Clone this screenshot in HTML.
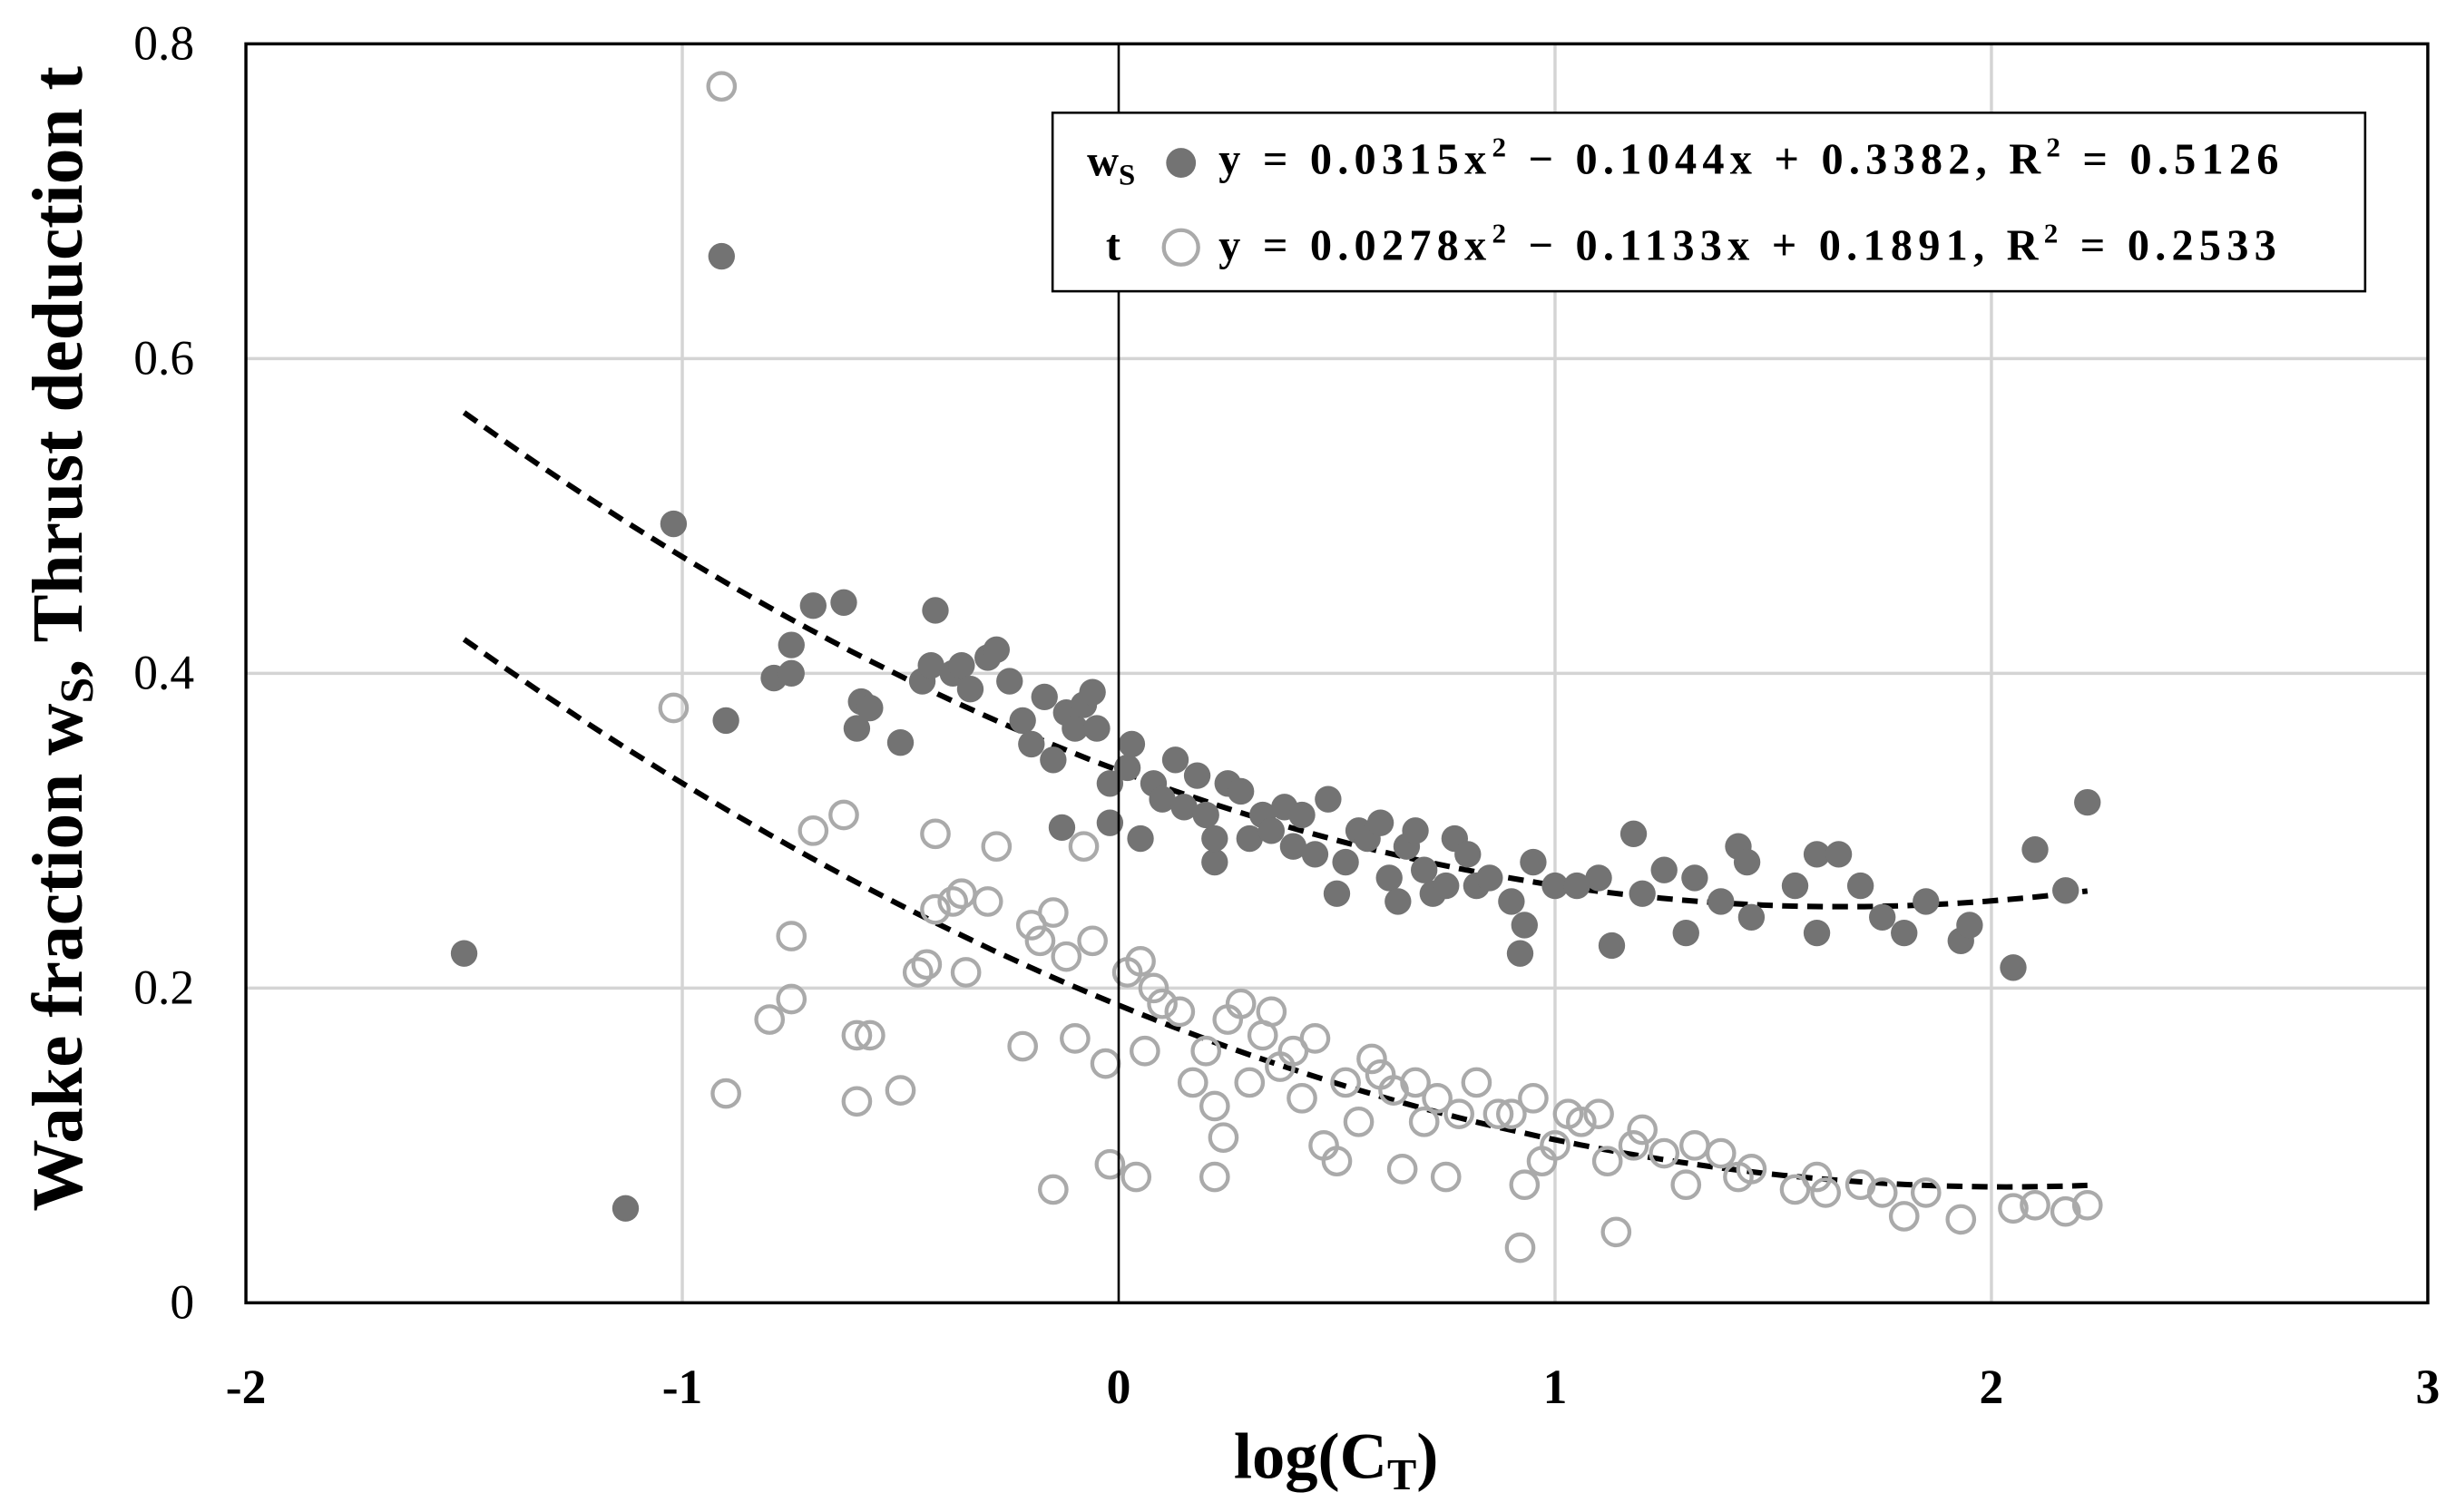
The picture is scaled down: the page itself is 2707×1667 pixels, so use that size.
<!DOCTYPE html>
<html><head><meta charset="utf-8"><style>
html,body{margin:0;padding:0;background:#fff}
svg{display:block}
text{font-family:"Liberation Serif",serif}
</style></head><body>
<svg width="2707" height="1667" viewBox="0 0 1568 965.6" xmlns="http://www.w3.org/2000/svg">
<g id="grid"></g>
<g id="trend"></g>
<g id="pts"></g>
<g id="axes"></g>
<g>
<rect x="672" y="72" width="838" height="114" fill="#fff" stroke="#000" stroke-width="1.5"/>
<text x="694" y="112" font-size="28" font-weight="bold">w<tspan font-size="19" dy="6">S</tspan></text>
<circle cx="754" cy="104" r="9.5" fill="#737373"/>
<text x="778" y="111" font-size="28" font-weight="bold" letter-spacing="3.6">y = 0.0315x<tspan font-size="18" dy="-11">2</tspan><tspan dy="11"> − 0.1044x + 0.3382, R</tspan><tspan font-size="18" dy="-11">2</tspan><tspan dy="11"> = 0.5126</tspan></text>
<text x="706" y="166" font-size="28" font-weight="bold">t</text>
<circle cx="754" cy="158" r="11" fill="none" stroke="#aaa" stroke-width="2.5"/>
<text x="778" y="166" font-size="28" font-weight="bold" letter-spacing="3.6">y = 0.0278x<tspan font-size="18" dy="-11">2</tspan><tspan dy="11"> − 0.1133x + 0.1891, R</tspan><tspan font-size="18" dy="-11">2</tspan><tspan dy="11"> = 0.2533</tspan></text>
</g>
<text x="853" y="944" text-anchor="middle" font-size="42" font-weight="bold">log(C<tspan font-size="28" dy="7">T</tspan><tspan dy="-7">)</tspan></text>
<text transform="translate(52,408) rotate(-90)" text-anchor="middle" font-size="46" font-weight="bold">Wake fraction w<tspan font-size="30" dy="7">S</tspan><tspan dy="-7">, Thrust deduction t</tspan></text>
</svg>
<script>
const xTicks=[-2,-1,0,1,2,3];
const yTicks=[0,0.2,0.4,0.6,0.8];
const yTickLabels=["0","0.2","0.4","0.6","0.8"];
const wsX=[-1.5,-1.13,-1.02,-0.91,-0.9,-0.79,-0.75,-0.75,-0.7,-0.63,-0.6,-0.59,-0.57,-0.5,-0.45,-0.43,-0.42,-0.38,-0.36,-0.34,-0.3,-0.28,-0.25,-0.22,-0.2,-0.17,-0.15,-0.13,-0.12,-0.1,-0.08,-0.06,-0.05,-0.02,-0.02,0.02,0.03,0.05,0.08,0.1,0.13,0.15,0.18,0.2,0.22,0.22,0.25,0.28,0.3,0.33,0.35,0.38,0.4,0.42,0.45,0.48,0.5,0.52,0.55,0.57,0.6,0.62,0.64,0.66,0.68,0.7,0.72,0.75,0.77,0.8,0.82,0.85,0.9,0.92,0.93,0.95,1.0,1.05,1.1,1.13,1.18,1.2,1.25,1.3,1.32,1.38,1.42,1.44,1.45,1.55,1.6,1.6,1.65,1.7,1.75,1.8,1.85,1.93,1.95,2.05,2.1,2.17,2.22];
const wsY=[0.222,0.06,0.495,0.665,0.37,0.397,0.4,0.418,0.443,0.445,0.365,0.382,0.378,0.356,0.395,0.405,0.44,0.4,0.405,0.39,0.41,0.415,0.395,0.37,0.355,0.385,0.345,0.302,0.375,0.365,0.38,0.388,0.365,0.33,0.305,0.34,0.355,0.295,0.33,0.32,0.345,0.315,0.335,0.31,0.28,0.295,0.33,0.325,0.295,0.31,0.3,0.315,0.29,0.31,0.285,0.32,0.26,0.28,0.3,0.295,0.305,0.27,0.255,0.29,0.3,0.275,0.26,0.265,0.295,0.285,0.265,0.27,0.255,0.222,0.24,0.28,0.265,0.265,0.27,0.227,0.298,0.26,0.275,0.235,0.27,0.255,0.29,0.28,0.245,0.265,0.285,0.235,0.285,0.265,0.245,0.235,0.255,0.23,0.24,0.213,0.288,0.262,0.318];
const tX=[-1.02,-0.91,-0.9,-0.8,-0.75,-0.75,-0.7,-0.63,-0.6,-0.6,-0.57,-0.5,-0.46,-0.44,-0.42,-0.42,-0.38,-0.36,-0.35,-0.3,-0.28,-0.22,-0.2,-0.18,-0.15,-0.15,-0.12,-0.1,-0.08,-0.06,-0.03,-0.02,0.02,0.04,0.05,0.06,0.08,0.1,0.14,0.17,0.2,0.22,0.22,0.24,0.25,0.28,0.3,0.33,0.35,0.37,0.4,0.42,0.45,0.47,0.5,0.52,0.55,0.58,0.6,0.63,0.65,0.68,0.7,0.73,0.75,0.78,0.82,0.87,0.9,0.92,0.93,0.95,0.97,1.0,1.03,1.06,1.1,1.12,1.14,1.18,1.2,1.25,1.3,1.32,1.38,1.42,1.45,1.55,1.6,1.62,1.7,1.75,1.8,1.85,1.93,2.05,2.1,2.17,2.22];
const tY=[0.378,0.773,0.133,0.18,0.233,0.193,0.3,0.31,0.128,0.17,0.17,0.135,0.21,0.215,0.298,0.25,0.255,0.26,0.21,0.255,0.29,0.163,0.24,0.23,0.248,0.072,0.22,0.168,0.29,0.23,0.152,0.088,0.21,0.08,0.217,0.16,0.2,0.19,0.185,0.14,0.16,0.125,0.08,0.105,0.18,0.19,0.14,0.17,0.185,0.15,0.16,0.13,0.168,0.1,0.09,0.14,0.115,0.155,0.145,0.135,0.085,0.14,0.115,0.13,0.08,0.12,0.14,0.12,0.12,0.035,0.075,0.13,0.09,0.1,0.12,0.115,0.12,0.09,0.045,0.1,0.11,0.095,0.075,0.1,0.095,0.08,0.085,0.072,0.08,0.07,0.075,0.07,0.055,0.07,0.053,0.06,0.062,0.058,0.062];
const wsCoef=[0.0315,-0.1044,0.3382];
const tCoef=[0.0278,-0.1133,0.1891];
const fitRange=[-1.5,2.22];

const NS="http://www.w3.org/2000/svg";
const X0=157,X1=1550,Y0=832,Y1=28;
function sx(v){return X0+(v-(-2))/(3-(-2))*(X1-X0);}
function sy(v){return Y0-(v/0.8)*(Y0-Y1);}
function mk(tag,attrs,parent){const e=document.createElementNS(NS,tag);for(const k in attrs)e.setAttribute(k,attrs[k]);parent.appendChild(e);return e;}
const grid=document.getElementById('grid'),axes=document.getElementById('axes'),pts=document.getElementById('pts'),trend=document.getElementById('trend');
xTicks.forEach(v=>{
  if(v!==-2&&v!==3&&v!==0){const l=mk('line',{x1:sx(v),x2:sx(v),y1:Y1,y2:Y0,stroke:'#d4d4d4','stroke-width':2},grid);
  
  }
  const t=mk('text',{x:sx(v),y:896,'text-anchor':'middle','font-size':31,'font-weight':'bold'},axes);
  t.textContent=String(v);
  
  
});
yTicks.forEach((v,i)=>{
  if(v>0&&v<0.8){const l=mk('line',{x1:X0,x2:X1,y1:sy(v),y2:sy(v),stroke:'#d4d4d4','stroke-width':2},grid);
  
  }
  const t=mk('text',{x:124,y:sy(v)+10,'text-anchor':'end','font-size':31},axes);
  t.textContent=yTickLabels[i];
  
  
});
const zl=mk('line',{x1:sx(0),x2:sx(0),y1:Y1,y2:Y0,stroke:'#000','stroke-width':1.5},axes);


const fr=mk('rect',{x:X0,y:Y1,width:X1-X0,height:Y0-Y1,fill:'none',stroke:'#000','stroke-width':2},axes);


wsX.forEach((v,i)=>{const c=mk('circle',{cx:sx(v),cy:sy(wsY[i]),r:8.5,fill:'#737373'},pts);
  
  });
tX.forEach((v,i)=>{const c=mk('circle',{cx:sx(v),cy:sy(tY[i]),r:8.5,fill:'none',stroke:'#aaa','stroke-width':2.5},pts);
  
  });
function fitPath(c){let d='';for(let k=0;k<=80;k++){const x=fitRange[0]+(fitRange[1]-fitRange[0])*k/80;const y=c[0]*x*x+c[1]*x+c[2];d+=(k?'L':'M')+sx(x).toFixed(1)+','+sy(y).toFixed(1);}return d;}
const p1=mk('path',{d:fitPath(wsCoef),fill:'none',stroke:'#000','stroke-width':3.5,'stroke-dasharray':'10,6'},trend);


const p2=mk('path',{d:fitPath(tCoef),fill:'none',stroke:'#000','stroke-width':3.5,'stroke-dasharray':'10,6'},trend);


</script>
</body></html>
